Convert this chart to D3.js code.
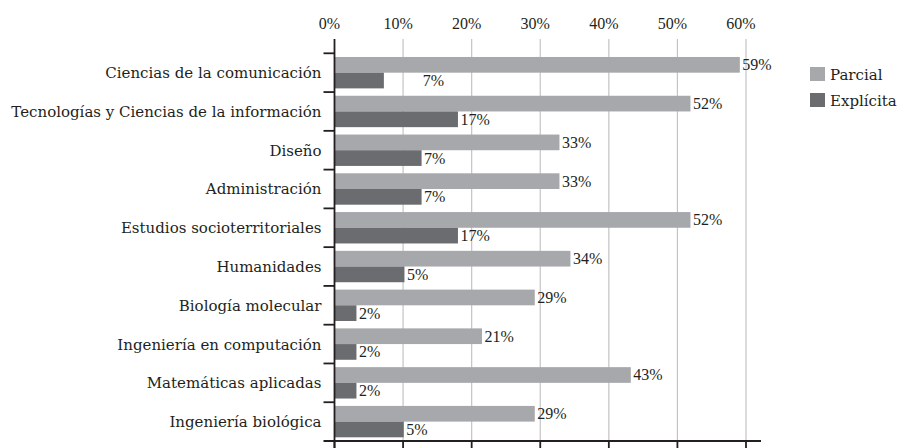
<!DOCTYPE html>
<html><head><meta charset="utf-8">
<script src="https://cdn.jsdelivr.net/npm/d3@7"></script>
<style>body{margin:0;background:#fff}svg{display:block}text{font-family:"Liberation Serif","Times New Roman",serif;fill:#231f20}.w{font-family:"DejaVu Serif",serif}</style>
</head><body><svg id="c" width="899" height="448"></svg>
<script>
const categories = ["Ciencias de la comunicación","Tecnologías y Ciencias de la información","Diseño","Administración","Estudios socioterritoriales","Humanidades","Biología molecular","Ingeniería en computación","Matemáticas aplicadas","Ingeniería biológica"];
const seriesNames = ["Parcial","Explícita"];
const parcialValues = [59.1, 51.9, 32.8, 32.8, 51.9, 34.4, 29.2, 21.5, 43.2, 29.2];
const parcialLabels = ["59%","52%","33%","33%","52%","34%","29%","21%","43%","29%"];
const explicitaValues = [7.2, 18.0, 12.7, 12.7, 18.0, 10.2, 3.2, 3.2, 3.2, 10.1];
const explicitaLabels = ["7%","17%","7%","7%","17%","5%","2%","2%","2%","5%"];
const explicitaLabelAt = [12.5, 18.0, 12.7, 12.7, 18.0, 10.2, 3.2, 3.2, 3.2, 10.1];
const tickValues = [0,10,20,30,40,50,60];
const tickLabels = ["0%","10%","20%","30%","40%","50%","60%"];
const colors = ["#a7a8ab","#6b6c70"];

const svg = d3.select("#c");
const x = d3.scaleLinear().domain([0,60]).range([334.5,746]);
const y = d3.scaleBand().domain(categories).range([53.3,441]).padding(0);
const sub = d3.scaleBand().domain(seriesNames).range([0,y.bandwidth()]).paddingInner(0).paddingOuter(0.235);

// gridlines
svg.append("g").selectAll("line").data(tickValues.filter(d=>d>0)).join("line")
  .attr("x1",d=>x(d)).attr("x2",d=>x(d)).attr("y1",39).attr("y2",441)
  .attr("stroke","#c4c4c4").attr("stroke-width",1.2);

// top tick labels
svg.append("g").selectAll("text").data(tickValues).join("text")
  .attr("x",d=>x(d)-5).attr("y",29).attr("text-anchor","middle")
  .style("font-size","16px").text((d,i)=>tickLabels[i]);

// bars
const rows = categories.map((c,i)=>({c,i}));
const g = svg.append("g");
g.selectAll("rect.p").data(rows).join("rect").attr("class","p")
  .attr("x",x(0)).attr("y",d=>y(d.c)+sub("Parcial"))
  .attr("width",d=>x(parcialValues[d.i])-x(0)).attr("height",sub.bandwidth())
  .attr("fill",colors[0]);
g.selectAll("rect.e").data(rows).join("rect").attr("class","e")
  .attr("x",x(0)).attr("y",d=>y(d.c)+sub("Explícita"))
  .attr("width",d=>x(explicitaValues[d.i])-x(0)).attr("height",sub.bandwidth())
  .attr("fill",colors[1]);

// value labels
g.selectAll("text.pl").data(rows).join("text").attr("class","pl")
  .attr("x",d=>x(parcialValues[d.i])+2.5).attr("y",d=>y(d.c)+sub("Parcial")+sub.bandwidth()/2+5.5)
  .style("font-size","16px").text(d=>parcialLabels[d.i]);
g.selectAll("text.el").data(rows).join("text").attr("class","el")
  .attr("x",d=>x(explicitaLabelAt[d.i])+2.5).attr("y",d=>y(d.c)+sub("Explícita")+sub.bandwidth()/2+5.5)
  .style("font-size","16px").text(d=>explicitaLabels[d.i]);

// left axis
const yAxisG = svg.append("g");
yAxisG.append("line").attr("x1",x(0)).attr("x2",x(0)).attr("y1",39).attr("y2",448)
  .attr("stroke","#231f20").attr("stroke-width",1.8);
const bounds = categories.map(c=>y(c));
yAxisG.selectAll("line.t").data(bounds).join("line").attr("class","t")
  .attr("x1",x(0)-11).attr("x2",x(0)).attr("y1",d=>d).attr("y2",d=>d)
  .attr("stroke","#231f20").attr("stroke-width",1.8);
yAxisG.selectAll("text").data(categories).join("text").attr("class","w")
  .attr("x",321.5).attr("y",d=>y(d)+y.bandwidth()/2+5.5).attr("text-anchor","end")
  .style("font-size","15px").text(d=>d);

// bottom axis
const xb = svg.append("g");
xb.append("line").attr("x1",x(0)-11).attr("x2",761).attr("y1",441).attr("y2",441)
  .attr("stroke","#231f20").attr("stroke-width",1.8);
xb.selectAll("line.t").data(tickValues).join("line").attr("class","t")
  .attr("x1",d=>x(d)).attr("x2",d=>x(d)).attr("y1",441).attr("y2",448)
  .attr("stroke","#231f20").attr("stroke-width",1.8);

// legend
const lg = svg.append("g").selectAll("g").data(seriesNames).join("g")
  .attr("transform",(d,i)=>`translate(810,${67+i*26})`);
lg.append("rect").attr("width",15).attr("height",14).attr("fill",(d,i)=>colors[i]);
lg.append("text").attr("class","w").attr("x",20).attr("y",12.5).style("font-size","15px").text(d=>d);
</script></body></html>
